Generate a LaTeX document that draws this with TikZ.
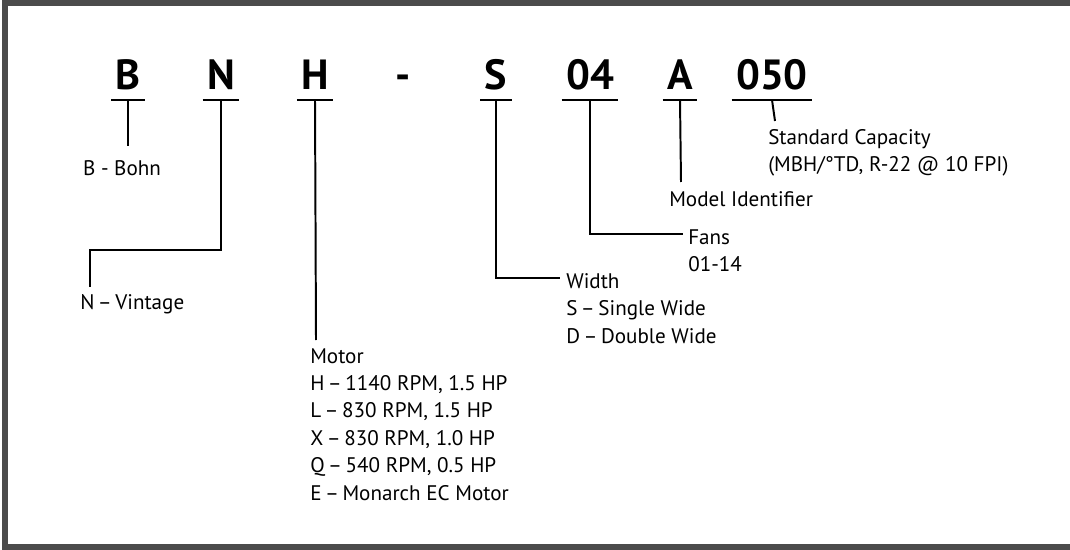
\documentclass[tikz,border=0pt]{standalone}
\usepackage{fontspec}
\setmainfont{PT Sans}
\usetikzlibrary{positioning}

\tikzset{
  code/.style={font=\fontsize{30}{30}\selectfont\bfseries, anchor=base, inner xsep=3pt, inner ysep=0pt},
  desc/.style={font=\fontsize{15}{19.5}\selectfont, align=left, inner sep=0pt, anchor=north west},
  lead/.style={line width=1.4pt},
}
\newcommand{\sep}{\,--\,}

\begin{document}
\begin{tikzpicture}[x=0.025cm, y=-0.025cm]
    \useasboundingbox (0,0) rectangle (1070,550);
    % Frame (right side cut off)
    \draw[line width=4.5pt, black!70] (1072,3) -- (5,3) -- (5,547) -- (1072,547);

    % Model code
    \node[code] (bohn) at (128,90) {B};
    \node[code] (vintage) at (221,90) {N};
    \node[code] (motor) at (315,90) {H};
    \node[code] (dash) at (403,90) {-};
    \node[code] (width) at (496,90) {S};
    \node[code] (fans) at (590,90) {04};
    \node[code] (model) at (680,90) {A};
    \node[code] (capacity) at (772,90) {050};

    % Underlines
    \foreach \c in {bohn,vintage,motor,width,fans,model,capacity}
        \draw[lead] ([yshift=-7pt]\c.base west) -- ([yshift=-7pt]\c.base east);

    % Descriptions
    \node[desc, anchor=north] (bohnText) at (122,160) {B - Bohn};
    \node[desc] (vintageText) at (80,294) {N\sep Vintage};
    \node[desc] (motorText) at (310,348) {Motor\\H\sep 1140 RPM, 1.5 HP\\L\sep 830 RPM, 1.5 HP\\X\sep 830 RPM, 1.0 HP\\Q\sep 540 RPM, 0.5 HP\\E\sep Monarch EC Motor};
    \node[desc] (widthText) at (566,273) {Width\\S\sep Single Wide\\D\sep Double Wide};
    \node[desc] (fansText) at (688,229) {Fans\\01-14};
    \node[desc] (modelText) at (669,191) {Model Identifier};
    \node[desc] (capacityText) at (768,129) {Standard Capacity\\(MBH/°TD, R-22 @ 10 FPI)};

    % Leaders
    \coordinate (bohnEnd) at (128,146);
    \coordinate (vintageEnd) at (90,287);
    \coordinate (motorEnd) at (316,340);
    \coordinate (widthEnd) at (560,278);
    \coordinate (fansEnd) at (683,234);
    \coordinate (modelEnd) at (681,182);
    \coordinate (capacityEnd) at (775,121);

    \draw[lead] ([yshift=-7pt]bohn.base) -- (bohnEnd);
    \draw[lead] ([yshift=-7pt]vintage.base) -- (221,250) -| (vintageEnd);
    \draw[lead] ([yshift=-7pt]motor.base) -- (motorEnd);
    \draw[lead] ([yshift=-7pt]width.base) |- (widthEnd);
    \draw[lead] ([yshift=-7pt]fans.base) |- (fansEnd);
    \draw[lead] ([yshift=-7pt]model.base) -- (modelEnd);
    \draw[lead] ([yshift=-7pt]capacity.base) -- (capacityEnd);
\end{tikzpicture}
\end{document}
